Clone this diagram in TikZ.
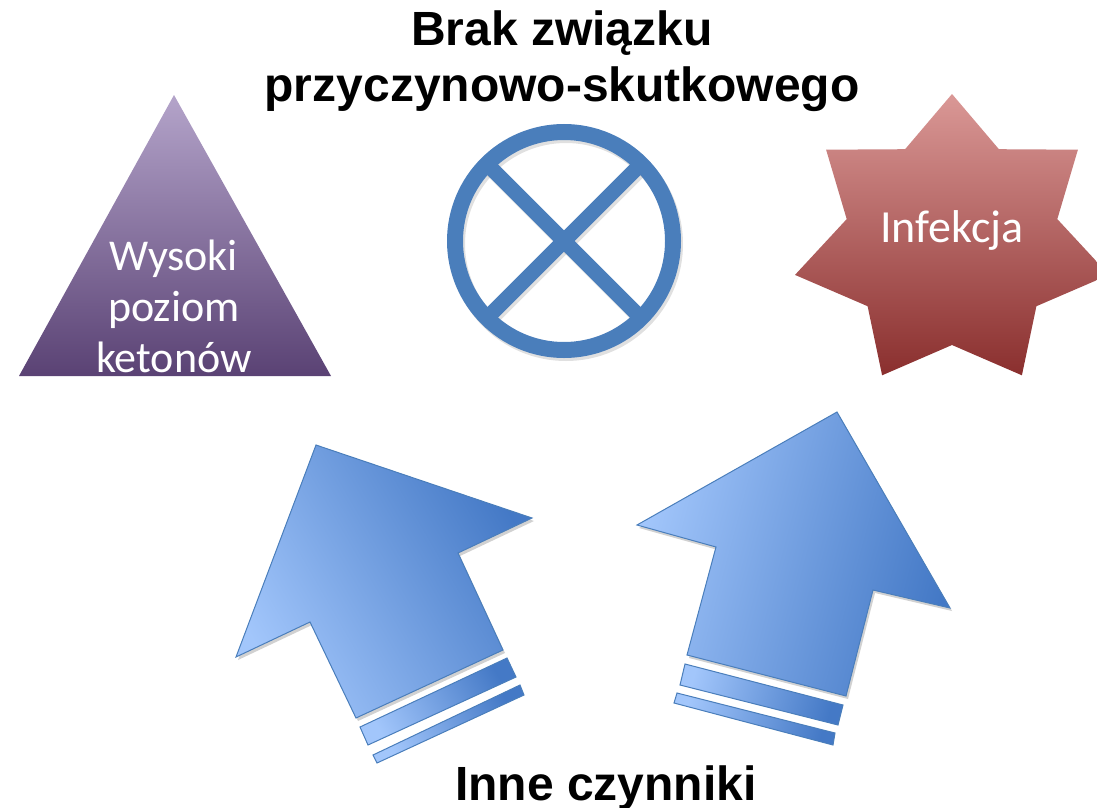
\documentclass[tikz,border=0pt]{standalone}
\usepackage{fontspec}
\setmainfont{Liberation Sans}
\newfontfamily\bodyfont{Carlito}
\definecolor{triTop}{HTML}{B4A4CA}
\definecolor{triBot}{HTML}{5A4274}
\definecolor{starTop}{HTML}{DA9896}
\definecolor{starMid}{HTML}{BE5250}
\definecolor{starBot}{HTML}{8A2F2E}
\definecolor{ringBlue}{HTML}{4A7EBB}
\definecolor{arrLight}{HTML}{A2C6FB}
\definecolor{arrDark}{HTML}{4479C6}
\definecolor{arrLine}{HTML}{4A7EBB}
\tikzset{
  heading/.style={font=\bfseries\fontsize{48}{55}\selectfont, anchor=base, inner sep=0pt},
  shapetext/.style={font=\bodyfont\fontsize{44}{51}\selectfont, text=white, anchor=base, inner sep=0pt},
  arrowbody/.style={draw=arrLine, line width=1pt, line join=miter},
  softshadow/.style={fill=black, opacity=0.18},
}
\begin{document}
\begin{tikzpicture}[x=1pt,y=-1pt]
\useasboundingbox (0,0) rectangle (1097,808);
\clip (0,0) rectangle (1097,808);

% triangle: high ketone level
\shade[top color=triTop, bottom color=triBot]
  (174,95) -- (331,376) -- (19,376) -- cycle;
\node[shapetext] (w1) at (174,270) {Wysoki};
\node[shapetext] (w2) at (174,321) {poziom};
\node[shapetext] (w3) at (174,372) {ketonów};

% seven-pointed star: infection
\shade[top color=starTop, middle color=starMid, bottom color=starBot]
  (952,94) -- (998.9,149.2) -- (1077.9,149.7) -- (1057.3,219.1)
  -- (1109,274.9) -- (1036.4,306.2) -- (1021.9,375.3) -- (952,345)
  -- (882.1,375.3) -- (867.6,306.2) -- (795,274.9) -- (846.7,219.1)
  -- (826.1,149.7) -- (905.1,149.2) -- cycle;
\node[shapetext, font=\bodyfont\fontsize{46}{51}\selectfont] (inf) at (952,242) {Infekcja};

% crossed circle: no causal link
\begin{scope}[shift={(2,3)}, opacity=0.12, draw=black]
  \draw[line width=16pt] (564,241) circle (109);
  \draw[line width=15pt] (487,164) -- (641,318);
  \draw[line width=15pt] (641,164) -- (487,318);
\end{scope}
\draw[ringBlue, line width=16pt] (564,241) circle (109);
\draw[ringBlue, line width=15pt] (487,164) -- (641,318);
\draw[ringBlue, line width=15pt] (641,164) -- (487,318);

% left arrow with its two stripes
\path[softshadow] (318,448) -- (534,521) -- (460,556) -- (505,653) -- (358,721)
  -- (312,625) -- (238,660) -- cycle;
\path[arrowbody, top color=arrLight, bottom color=arrDark, shading angle=120]
  (316,445) -- (532,518) -- (458,553) -- (503,650) -- (356,718)
  -- (310,622) -- (236,657) -- cycle;
\path[arrowbody, top color=arrLight, bottom color=arrDark, shading angle=120]
  (360,727) -- (507,658) -- (516,677) -- (368,745) -- cycle;
\path[arrowbody, top color=arrLight, bottom color=arrDark, shading angle=120]
  (373,755) -- (520,685) -- (524,695) -- (377,763) -- cycle;

% right arrow with its two stripes
\path[softshadow] (839,415) -- (952,611) -- (875,593) -- (848,699) -- (689,658)
  -- (718,550) -- (639,528) -- cycle;
\path[arrowbody, top color=arrLight, bottom color=arrDark, shading angle=75]
  (837,412) -- (950,608) -- (873,590) -- (846,696) -- (687,655)
  -- (716,547) -- (637,525) -- cycle;
\path[arrowbody, top color=arrLight, bottom color=arrDark, shading angle=75]
  (685,664) -- (843,705) -- (838,725) -- (680,685) -- cycle;
\path[arrowbody, top color=arrLight, bottom color=arrDark, shading angle=75]
  (677,693) -- (835,733) -- (833,745) -- (674,703) -- cycle;

% headings
\node[heading] (title1) at (562,46) {Brak związku};
\node[heading] (title2) at (562,101) {przyczynowo-skutkowego};
\node[heading] (other) at (606,800) {Inne czynniki};
\end{tikzpicture}
\end{document}
